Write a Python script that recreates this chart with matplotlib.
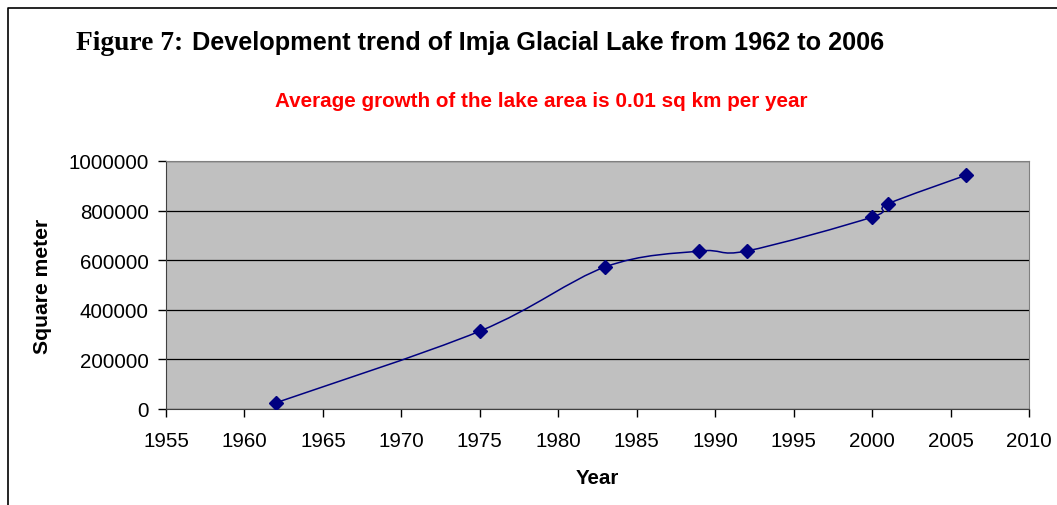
import matplotlib
matplotlib.use("Agg")
import matplotlib.pyplot as plt
from matplotlib.path import Path
from matplotlib.patches import PathPatch
from matplotlib.lines import Line2D
import numpy as np

# Imja Glacial Lake area (square meter) by year
years = [1962, 1975, 1983, 1989, 1992, 2000, 2001, 2006]
area = [25000, 314000, 573000, 637000, 637000, 774000, 827000, 943000]

x_ticks = [1955, 1960, 1965, 1970, 1975, 1980, 1985, 1990, 1995, 2000, 2005, 2010]
y_ticks = [0, 200000, 400000, 600000, 800000, 1000000]

navy = '#000080'


# Smoothed line like Excel (Catmull-Rom turned into bezier segments)
def smooth_path(xs, ys):
    pts = np.column_stack([xs, ys]).astype(float)
    verts = [pts[0]]
    codes = [Path.MOVETO]
    n = len(pts)
    for i in range(n - 1):
        p0 = pts[max(i - 1, 0)]
        p1 = pts[i]
        p2 = pts[i + 1]
        p3 = pts[min(i + 2, n - 1)]
        c1 = p1 + (p2 - p0) / 6.0
        c2 = p2 - (p3 - p1) / 6.0
        verts += [c1, c2, p2]
        codes += [Path.CURVE4] * 3
    return Path(verts, codes)


W, H = 1057, 506
fig = plt.figure(figsize=(W / 100, H / 100), dpi=100)
ax = fig.add_axes([166 / W, 1 - 410 / H, (1029 - 166) / W, (410 - 162) / H])
ax.set_facecolor('#c0c0c0')

ax.add_patch(PathPatch(smooth_path(years, area), facecolor='none', edgecolor=navy, lw=1.1, zorder=3))
ax.plot(years, area, linestyle='none', marker='D', markersize=7, color=navy, zorder=4)

ax.set_xlim(1955, 2010)
ax.set_ylim(0, 1000000)
ax.set_xticks(x_ticks)
ax.set_yticks(y_ticks)
ax.set_xticklabels([str(v) for v in x_ticks])
ax.set_yticklabels([str(v) for v in y_ticks])
ax.yaxis.grid(True, color='black', lw=0.9)
ax.set_axisbelow(True)
ax.tick_params(labelsize=14.8, length=5.5, width=1, direction='out', colors='black')
ax.tick_params(axis='x', pad=10.5)
ax.tick_params(axis='y', pad=7)
for s in ['top', 'right']:
    ax.spines[s].set_color('#808080')
for s in ['left', 'bottom']:
    ax.spines[s].set_color('#404040')

ax.set_xlabel('Year', fontsize=14.8, fontweight='bold', labelpad=13)
ax.set_ylabel('Square meter', fontsize=15.2, fontweight='bold', labelpad=12)

for t in ax.get_xticklabels() + ax.get_yticklabels():
    t.set_family('Liberation Sans')
ax.xaxis.label.set_family('Liberation Sans')
ax.yaxis.label.set_family('Liberation Sans')

# Title: "Figure 7:" in Times-like, the rest in Arial-like
fig.text(76 / W, 1 - 43 / H, 'Figure 7:', family='Liberation Serif', fontweight='bold',
         fontsize=19.8, va='center', ha='left')
fig.text(192 / W, 1 - 43 / H, 'Development trend of Imja Glacial Lake from 1962 to 2006',
         family='Liberation Sans', fontweight='bold', fontsize=18.2, va='center', ha='left')
fig.text(541 / W, 1 - 102 / H, 'Average growth of the lake area is 0.01 sq km per year',
         family='Liberation Sans', fontweight='bold', fontsize=14.9, color='#ff0000',
         va='center', ha='center')

# outer frame (only left and top edges visible)
fig.add_artist(Line2D([8 / W, 8 / W, 1.0], [0.0, 1 - 9 / H, 1 - 9 / H],
                      transform=fig.transFigure, color='black', lw=1.2))

fig.savefig('out.png', dpi=100)
